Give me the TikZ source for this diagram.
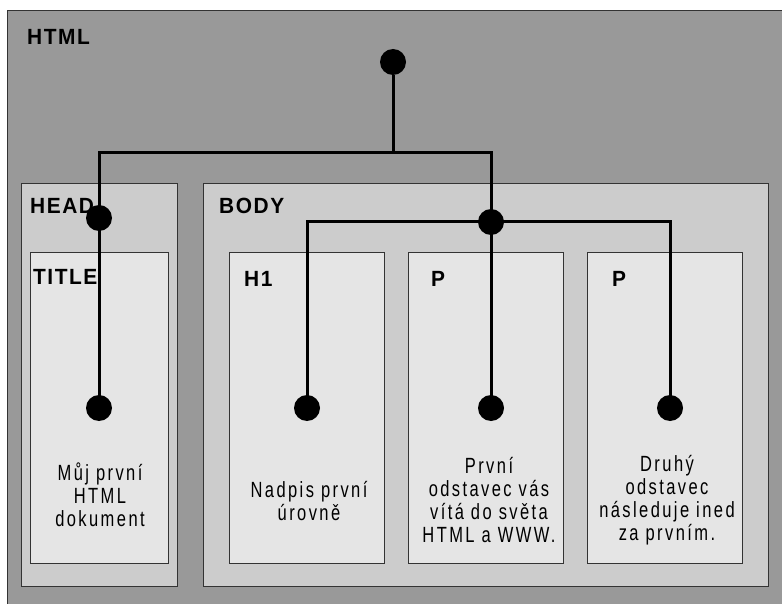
\documentclass[tikz,border=0pt]{standalone}
\usepackage{fontspec}
\setmainfont{Liberation Sans}[FakeStretch=0.75, LetterSpace=11]
\newfontfamily\tagfont{Liberation Sans}[FakeStretch=0.95, LetterSpace=7]
\definecolor{htmlgrey}{gray}{0.6}
\definecolor{partgrey}{gray}{0.8}
\definecolor{elemgrey}{gray}{0.9}
\definecolor{edgegrey}{gray}{0.2}

\begin{document}
\begin{tikzpicture}[x=1pt,y=-1pt,
  box/.style={draw=edgegrey, line width=1pt, rectangle, anchor=north west, inner sep=0pt},
  tag/.style={anchor=west, inner sep=0pt, font=\tagfont\bfseries\fontsize{22}{26}\selectfont},
  txt/.style={align=center, inner sep=0pt, font=\fontsize{22}{23}\selectfont},
  dot/.style={circle, fill=black, minimum size=26pt, inner sep=0pt},
  wire/.style={line width=3pt}]
  \useasboundingbox (0,0) rectangle (782,604);
  \fill[white] (0,0) rectangle (782,604);

  % document tree boxes
  \node[box, fill=htmlgrey, minimum width=775pt, minimum height=594pt] (html) at (7,10) {};
  \node[box, fill=partgrey, minimum width=156pt, minimum height=403pt] (head) at (21,183) {};
  \node[box, fill=partgrey, minimum width=565pt, minimum height=403pt] (body) at (203,183) {};
  \node[box, fill=elemgrey, minimum width=138pt, minimum height=311pt] (title) at (30,252) {};
  \node[box, fill=elemgrey, minimum width=155pt, minimum height=311pt] (h1) at (229,252) {};
  \node[box, fill=elemgrey, minimum width=155pt, minimum height=311pt] (p1) at (408,252) {};
  \node[box, fill=elemgrey, minimum width=155pt, minimum height=311pt] (p2) at (587,252) {};

  % element names
  \node[tag] (htmltag) at (27,37) {HTML};
  \node[tag] (headtag) at (30,206) {HEAD};
  \node[tag] (bodytag) at (219,206) {BODY};
  \node[tag] (titletag) at (33,277) {TITLE};
  \node[tag] (h1tag) at (244,279) {H1};
  \node[tag] (p1tag) at (431,279) {P};
  \node[tag] (p2tag) at (612,279) {P};

  % contents
  \node[txt] (titletxt) at (100,495) {Můj první\\HTML\\dokument};
  \node[txt] (h1txt) at (309,501) {Nadpis první\\úrovně};
  \node[txt] (p1txt) at (489,500) {První\\odstavec vás\\vítá do světa\\HTML a WWW.};
  \node[txt] (p2txt) at (667,500) {Druhý\\odstavec\\následuje ined\\za prvním.};

  % nodes of the tree
  \node[dot] (htmldot) at (393,62) {};
  \node[dot] (headdot) at (99,218) {};
  \node[dot] (bodydot) at (491,222) {};
  \node[dot] (titledot) at (99,408) {};
  \node[dot] (h1dot) at (307,408) {};
  \node[dot] (p1dot) at (491,408) {};
  \node[dot] (p2dot) at (670,408) {};

  \coordinate (fork) at (393,153);
  \draw[wire] (htmldot) -- (fork);
  \draw[wire] (titledot.center) |- (bodydot |- fork) -- (p1dot.center);
  \draw[wire] (h1dot.center) |- (bodydot.center) -| (p2dot.center);
\end{tikzpicture}
\end{document}
